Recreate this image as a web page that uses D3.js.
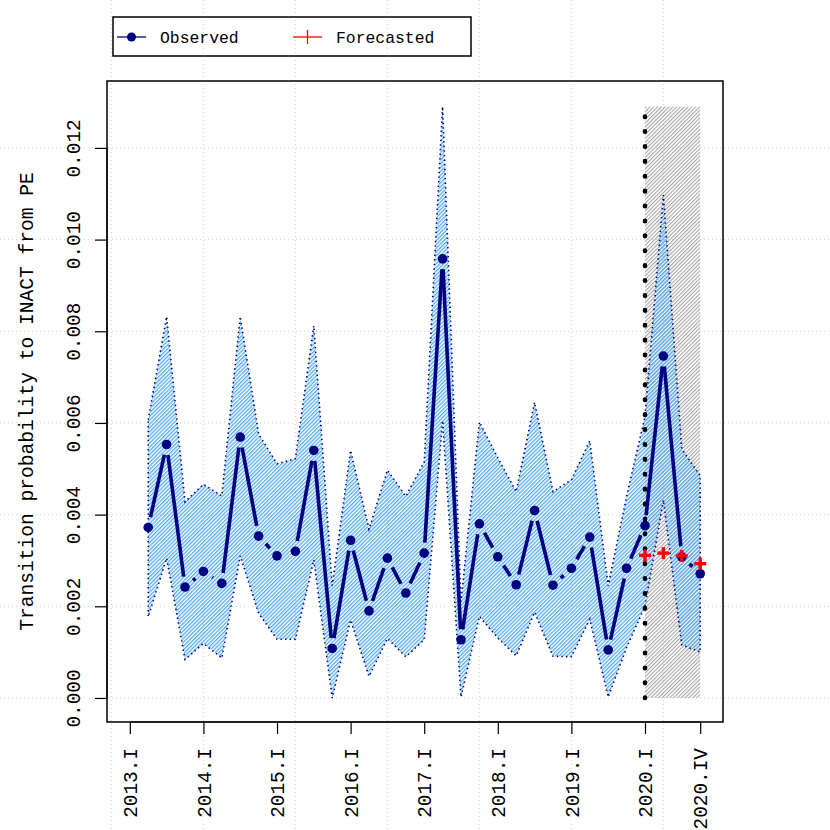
<!DOCTYPE html>
<html><head><meta charset="utf-8">
<script src="https://cdn.jsdelivr.net/npm/d3@7"></script>
<style>body{margin:0;background:#fff} svg{display:block}</style>
</head><body><svg id="c" width="830" height="830"></svg>
<script>
// ---- data ----
const quarters = ["2013.II","2013.III","2013.IV","2014.I","2014.II","2014.III","2014.IV",
  "2015.I","2015.II","2015.III","2015.IV","2016.I","2016.II","2016.III","2016.IV",
  "2017.I","2017.II","2017.III","2017.IV","2018.I","2018.II","2018.III","2018.IV",
  "2019.I","2019.II","2019.III","2019.IV","2020.I","2020.II","2020.III","2020.IV"];
const observed = [0.00372,0.00553,0.00242,0.00276,0.00250,0.00569,0.00353,
  0.00310,0.00320,0.00540,0.00108,0.00344,0.00190,0.00305,0.00229,
  0.00316,0.00958,0.00127,0.00380,0.00308,0.00247,0.00409,0.00246,
  0.00283,0.00351,0.00105,0.00283,0.00376,0.00746,0.00308,0.00271];
const upper = [0.00607,0.00832,0.00428,0.00466,0.00441,0.00832,0.00576,
  0.00511,0.00522,0.00812,0.00245,0.00540,0.00368,0.00497,0.00440,
  0.00515,0.01290,0.00210,0.00602,0.00524,0.00450,0.00645,0.00450,
  0.00476,0.00561,0.00245,0.00440,0.00614,0.01097,0.00543,0.00485];
const lower = [0.00177,0.00305,0.00084,0.00119,0.00087,0.00310,0.00185,
  0.00128,0.00128,0.00301,0.00000,0.00170,0.00047,0.00130,0.00090,
  0.00127,0.00605,0.00002,0.00178,0.00131,0.00092,0.00187,0.00091,
  0.00090,0.00172,0.00002,0.00110,0.00200,0.00432,0.00116,0.00100];
const forecastQuarters = ["2020.I","2020.II","2020.III","2020.IV"];
const forecast = [0.00311,0.00316,0.00310,0.00293];
const xTickLabels = ["2013.I","2014.I","2015.I","2016.I","2017.I","2018.I","2019.I","2020.I","2020.IV"];
const yTicks = [0,0.002,0.004,0.006,0.008,0.010,0.012];
const xGridIdx = [0,5,10,15,20,25,30];
const shadeTop = 0.0129;
const yTitle = "Transition probability to INACT from PE";
const legendItems = ["Observed","Forecasted"];

// ---- helpers ----
const roman = {I:1,II:2,III:3,IV:4};
function qIndex(lab){ const [y,r]=lab.split("."); return (+y-2013)*4 + roman[r]; }

const svg = d3.select("#c");
const W=830,H=830;
const x = d3.scaleLinear().domain([-0.24,33.24]).range([107,723]);
const y = d3.scaleLinear().domain([-0.000524,0.01346]).range([722,81]);
const NAVY="#000080";
const FONT="'Liberation Mono','DejaVu Sans Mono',monospace";

const defs = svg.append("defs");
const pb = defs.append("pattern").attr("id","hatchBlue").attr("patternUnits","userSpaceOnUse")
  .attr("width",2.7).attr("height",2.7).attr("patternTransform","rotate(45)");
pb.append("rect").attr("x",0).attr("y",0).attr("width",1.35).attr("height",2.7).attr("fill","#5aaef2");
const pg = defs.append("pattern").attr("id","hatchGray").attr("patternUnits","userSpaceOnUse")
  .attr("width",2.7).attr("height",2.7).attr("patternTransform","rotate(45)");
pg.append("rect").attr("x",0).attr("y",0).attr("width",1.1).attr("height",2.7).attr("fill","#a6a6a6");

// ---- grid (full device) ----
const grid = svg.append("g").attr("stroke","#d3d3d3").attr("stroke-dasharray","1,3").attr("stroke-width",1);
grid.selectAll("line.v").data(xGridIdx).join("line").attr("class","v")
  .attr("x1",d=>x(d)).attr("x2",d=>x(d)).attr("y1",0).attr("y2",H);
grid.selectAll("line.h").data(yTicks).join("line").attr("class","h")
  .attr("y1",d=>y(d)).attr("y2",d=>y(d)).attr("x1",0).attr("x2",W);

// ---- forecast shade ----
const f0 = qIndex(forecastQuarters[0]), f1 = qIndex(forecastQuarters[forecastQuarters.length-1]);
svg.append("rect").attr("x",x(f0)).attr("width",x(f1)-x(f0))
  .attr("y",y(shadeTop)).attr("height",y(0)-y(shadeTop)).attr("fill","url(#hatchGray)");

// ---- band ----
const data = quarters.map((q,i)=>({i:qIndex(q),v:observed[i],lo:lower[i],hi:upper[i]}));
const area = d3.area().x(d=>x(d.i)).y0(d=>y(d.lo)).y1(d=>y(d.hi));
svg.append("path").datum(data).attr("d",area).attr("fill","url(#hatchBlue)")
  .attr("stroke",NAVY).attr("stroke-width",1.6).attr("stroke-dasharray","1.4,3.2");

// ---- vertical dotted line ----
svg.append("line").attr("x1",x(f0)).attr("x2",x(f0)).attr("y1",y(0)).attr("y2",y(shadeTop)+10)
  .attr("stroke","#000").attr("stroke-width",4.6).attr("stroke-linecap","round")
  .attr("stroke-dasharray","0.5,14.4");

// ---- observed line with gaps (type b) ----
const gap = 10.5;
const segs = [];
for(let k=0;k<data.length-1;k++){
  const ax=x(data[k].i), ay=y(data[k].v), bx=x(data[k+1].i), by=y(data[k+1].v);
  const L=Math.hypot(bx-ax,by-ay);
  if(L>2*gap){ const ux=(bx-ax)/L, uy=(by-ay)/L;
    segs.push([ax+ux*gap,ay+uy*gap,bx-ux*gap,by-uy*gap]); }
}
svg.append("g").selectAll("line").data(segs).join("line")
  .attr("x1",d=>d[0]).attr("y1",d=>d[1]).attr("x2",d=>d[2]).attr("y2",d=>d[3])
  .attr("stroke",NAVY).attr("stroke-width",3.6);
svg.append("g").selectAll("circle").data(data).join("circle")
  .attr("cx",d=>x(d.i)).attr("cy",d=>y(d.v)).attr("r",4.8).attr("fill",NAVY);

// ---- forecast pluses ----
const fc = forecastQuarters.map((q,i)=>({i:qIndex(q),v:forecast[i]}));
const pl = svg.append("g").attr("stroke","#ff0000").attr("stroke-width",3.4);
pl.selectAll("line.h").data(fc).join("line").attr("class","h")
  .attr("x1",d=>x(d.i)-6).attr("x2",d=>x(d.i)+6).attr("y1",d=>y(d.v)).attr("y2",d=>y(d.v));
pl.selectAll("line.v").data(fc).join("line").attr("class","v")
  .attr("x1",d=>x(d.i)).attr("x2",d=>x(d.i)).attr("y1",d=>y(d.v)-6).attr("y2",d=>y(d.v)+6);

// ---- frame ----
svg.append("rect").attr("x",107).attr("y",81).attr("width",616).attr("height",641)
  .attr("fill","none").attr("stroke","#000").attr("stroke-width",1.5);

// ---- axes ----
const xTickVals = xTickLabels.map(qIndex);
const xAxis = d3.axisBottom(x).tickValues(xTickVals).tickSize(12).tickFormat((d,i)=>xTickLabels[i]);
const gx = svg.append("g").attr("transform","translate(0,722)").call(xAxis);
gx.select(".domain").attr("d",`M${x(xTickVals[0])},0H${x(xTickVals[xTickVals.length-1])}`).attr("stroke-width",1.2);
gx.selectAll(".tick line").attr("stroke-width",1.2);
gx.selectAll(".tick text").attr("font-family",FONT).attr("font-size",19.4).attr("fill","#000")
  .attr("text-anchor","end").attr("y",0).attr("x",0).attr("dy","0.35em")
  .attr("transform","translate(0,26) rotate(-90)");

const yAxis = d3.axisLeft(y).tickValues(yTicks).tickSize(12).tickFormat(d3.format(".3f"));
const gy = svg.append("g").attr("transform","translate(107,0)").call(yAxis);
gy.select(".domain").attr("d",`M0,${y(yTicks[0])}V${y(yTicks[yTicks.length-1])}`).attr("stroke-width",1.2);
gy.selectAll(".tick line").attr("stroke-width",1.2);
gy.selectAll(".tick text").attr("font-family",FONT).attr("font-size",19.4).attr("fill","#000")
  .attr("text-anchor","middle").attr("x",0).attr("y",0).attr("dy",0)
  .attr("transform","translate(-27,0) rotate(-90)");

svg.append("text").attr("transform",`translate(33,${(81+722)/2}) rotate(-90)`)
  .attr("text-anchor","middle").attr("font-family",FONT).attr("font-size",19.6)
  .text(yTitle);

// ---- legend ----
const lg = svg.append("g");
lg.append("rect").attr("x",113).attr("y",17).attr("width",358).attr("height",39)
  .attr("fill","none").attr("stroke","#000").attr("stroke-width",1.5);
lg.append("line").attr("x1",117).attr("x2",146).attr("y1",37).attr("y2",37).attr("stroke",NAVY).attr("stroke-width",1.3);
lg.append("circle").attr("cx",131.5).attr("cy",37).attr("r",4.5).attr("fill",NAVY);
lg.append("line").attr("x1",293).attr("x2",322).attr("y1",37).attr("y2",37).attr("stroke","#ff0000").attr("stroke-width",1.3);
lg.append("line").attr("x1",307.5).attr("x2",307.5).attr("y1",30).attr("y2",44).attr("stroke","#ff0000").attr("stroke-width",1.3);
lg.selectAll("text").data(legendItems).join("text")
  .attr("x",(d,i)=>i===0?160:336).attr("y",37).attr("dy","0.35em")
  .attr("font-family",FONT).attr("font-size",16.4).text(d=>d);
</script></body></html>
